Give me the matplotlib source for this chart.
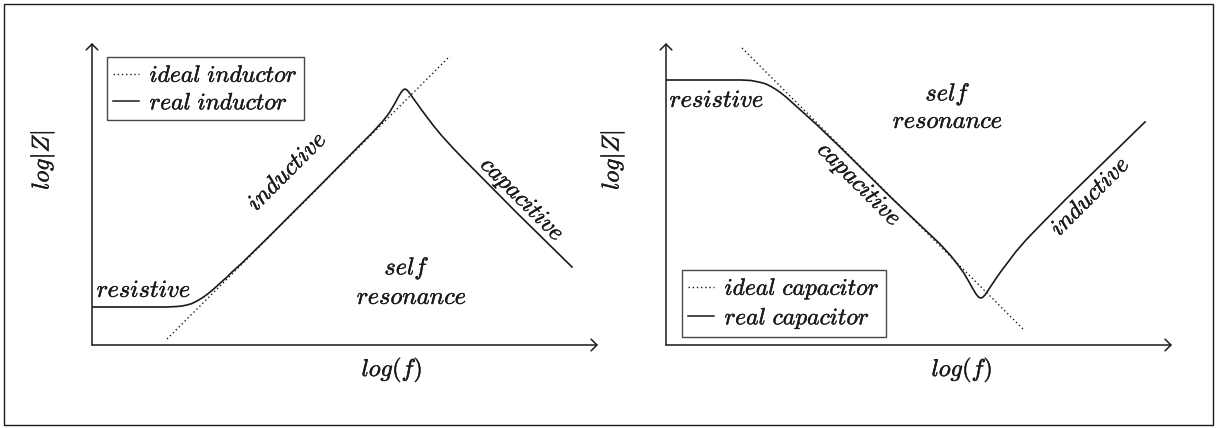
import matplotlib
matplotlib.use("Agg")
import matplotlib.pyplot as plt
import matplotlib.patheffects as pe
from matplotlib.patches import Rectangle
from matplotlib.lines import Line2D

plt.rcParams['mathtext.fontset'] = 'cm'

W, H = 1222, 428
FS = 17.5
LEG_FS = 17
INK = '#1a1a1a'
BOLDEN = [pe.withStroke(linewidth=0.3, foreground=INK)]

# ---- inductor: log|Z| versus log(f) ----
ind_ideal_x = [1.50, 7.16]
ind_ideal_y = [0.12, 5.78]
ind_real_x = [0.0, 1.0, 1.5, 1.7, 1.8, 1.9, 2.0, 2.1, 2.2, 2.3, 2.4, 2.5, 2.6, 2.7, 2.8,
              3.0, 3.5, 4.5, 5.36, 5.6, 5.82, 5.95, 6.05, 6.12, 6.18, 6.22, 6.26, 6.30,
              6.35, 6.42, 6.5, 6.6, 6.72, 6.85, 7.0, 7.2, 7.42, 8.5, 9.6]
ind_real_y = [0.76, 0.76, 0.76, 0.77, 0.78, 0.80, 0.83, 0.88, 0.94, 1.01, 1.09, 1.18, 1.27,
              1.36, 1.46, 1.64, 2.13, 3.13, 4.00, 4.24, 4.48, 4.65, 4.82, 4.95, 5.05, 5.10,
              5.12, 5.10, 5.04, 4.94, 4.83, 4.69, 4.53, 4.36, 4.18, 3.96, 3.73, 2.64, 1.56]

# ---- capacitor: log|Z| versus log(f) ----
cap_ideal_x = [1.52, 7.14]
cap_ideal_y = [5.94, 0.32]
cap_real_x = [0.0, 1.0, 1.5, 1.7, 1.8, 1.9, 2.0, 2.1, 2.2, 2.3, 2.4, 2.5, 2.6, 2.7, 2.8,
              3.0, 3.5, 4.5, 5.48, 5.7, 5.84, 5.95, 6.05, 6.14, 6.2, 6.25, 6.29, 6.33,
              6.38, 6.44, 6.52, 6.62, 6.72, 6.85, 7.0, 7.2, 7.45, 8.0, 9.58]
cap_real_y = [5.30, 5.30, 5.30, 5.29, 5.27, 5.25, 5.22, 5.17, 5.11, 5.04, 4.96, 4.87, 4.78,
              4.69, 4.60, 4.42, 3.94, 2.95, 2.02, 1.78, 1.60, 1.45, 1.28, 1.12, 1.02, 0.96,
              0.94, 0.95, 1.00, 1.09, 1.21, 1.36, 1.50, 1.67, 1.87, 2.10, 2.36, 2.92, 4.46]

X_MAX, Y_MAX = 10.12, 6.04   # axis extents (arrow tips)
UNIT = 50.0                   # pixels per data unit

fig = plt.figure(figsize=(W / 100, H / 100), dpi=100)

# outer frame
fig.patches.append(Rectangle((4 / W, 3 / H), 1209 / W, 421 / H, transform=fig.transFigure,
                             fill=False, edgecolor=INK, linewidth=1.0))


def panel(x0, y0):
    ax = fig.add_axes([x0 / W, (H - y0) / H, X_MAX * UNIT / W, Y_MAX * UNIT / H])
    ax.set_xlim(0, X_MAX)
    ax.set_ylim(0, Y_MAX)
    ax.axis('off')
    arrow = dict(arrowstyle='->,head_length=0.35,head_width=0.35', lw=1.1, color=INK,
                 shrinkA=0, shrinkB=0, mutation_scale=12)
    ax.annotate('', xy=(X_MAX, 0), xytext=(0, 0), arrowprops=arrow, annotation_clip=False)
    ax.annotate('', xy=(0, Y_MAX), xytext=(0, 0), arrowprops=arrow, annotation_clip=False)
    return ax


def ftext(px, py, s, rot=0):
    fig.text(px / W, 1 - py / H, s, fontsize=FS, rotation=rot, ha='center', va='center',
             rotation_mode='anchor', color=INK, path_effects=BOLDEN)


def legend(ax, labels, px, py):
    handles = [Line2D([], [], color=INK, lw=1.0, linestyle=(0, (1, 2))),
               Line2D([], [], color=INK, lw=1.1)]
    lg = ax.legend(handles, labels, loc='upper left',
                   bbox_to_anchor=(px / W, 1 - py / H), bbox_transform=fig.transFigure,
                   fontsize=LEG_FS, frameon=True, fancybox=False, handlelength=1.1,
                   handletextpad=0.45, labelspacing=0.15, borderpad=0.25, borderaxespad=0)
    fr = lg.get_frame()
    fr.set_edgecolor(INK)
    fr.set_linewidth(1.0)
    for t in lg.get_texts():
        t.set_color(INK)
        t.set_path_effects(BOLDEN)


# left: inductor
axL = panel(92, 345)
axL.plot(ind_ideal_x, ind_ideal_y, color=INK, lw=1.0, linestyle=(0, (1, 2)))
axL.plot(ind_real_x, ind_real_y, color=INK, lw=1.2, solid_joinstyle='round')
legend(axL, [r'$ideal\ inductor$', r'$real\ inductor$'], 107, 57)
ftext(144, 290, r'$resistive$')
ftext(287, 171, r'$inductive$', 45)
ftext(522, 200, r'$capacitive$', -45)
ftext(407, 268, r'$self$')
ftext(412, 297, r'$resonance$')
ftext(42, 160, r'$log|Z|$', 90)
ftext(392, 370, r'$log(f)$')

# right: capacitor
axR = panel(666, 345)
axR.plot(cap_ideal_x, cap_ideal_y, color=INK, lw=1.0, linestyle=(0, (1, 2)))
axR.plot(cap_real_x, cap_real_y, color=INK, lw=1.2, solid_joinstyle='round')
legend(axR, [r'$ideal\ capacitor$', r'$real\ capacitor$'], 682, 270)
ftext(717, 100, r'$resistive$')
ftext(859, 185, r'$capacitive$', -45)
ftext(1090, 196, r'$inductive$', 45)
ftext(948, 94, r'$self$')
ftext(948, 121, r'$resonance$')
ftext(612, 160, r'$log|Z|$', 90)
ftext(962, 370, r'$log(f)$')

fig.savefig('out.png', dpi=100)
